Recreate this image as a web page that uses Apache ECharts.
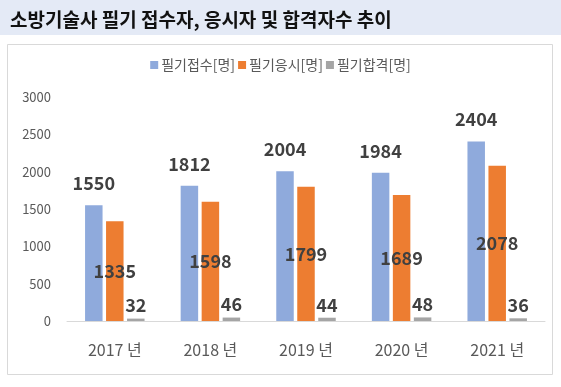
<!DOCTYPE html>
<html>
<head>
<meta charset="utf-8">
<script src="https://cdn.jsdelivr.net/npm/echarts@6/dist/echarts.min.js"></script>
<style>
html,body{margin:0;padding:0;background:#fff;}
#chart{width:561px;height:387px;}
</style>
</head>
<body>
<div id="chart"></div>
<script>
const titleText = '소방기술사 필기 접수자, 응시자 및 합격자수 추이';
const categories = ['2017 년', '2018 년', '2019 년', '2020 년', '2021 년'];
const seriesNames = ['필기접수[명]', '필기응시[명]', '필기합격[명]'];
const applied = [1550, 1812, 2004, 1984, 2404];
const tookExam = [1335, 1598, 1799, 1689, 2078];
const passed = [32, 46, 44, 48, 36];
const yTicks = [0, 500, 1000, 1500, 2000, 2500, 3000];

const FONT = '"Noto Sans CJK KR", "Noto Sans", sans-serif';
const chart = echarts.init(document.getElementById('chart'), null, {renderer: 'canvas'});

const labelStyle = {
  show: true,
  fontFamily: FONT,
  fontSize: 18,
  fontWeight: 'bold',
  color: '#404040'
};

chart.setOption({
  animation: false,
  textStyle: {fontFamily: FONT},
  graphic: [
    {type: 'rect', shape: {x: 0, y: 0, width: 561, height: 35}, style: {fill: '#e4eaf6'}, z: -10},
    {type: 'rect', shape: {x: 7.5, y: 44.5, width: 545, height: 330}, style: {fill: '#fff', stroke: '#d9d9d9', lineWidth: 1}, z: -10}
  ],
  title: {
    text: titleText,
    left: 5,
    top: 5,
    textStyle: {fontFamily: FONT, fontSize: 19, fontWeight: 'bold', color: '#111'}
  },
  legend: {
    data: seriesNames,
    left: 'center',
    top: 53,
    icon: 'rect',
    itemWidth: 8,
    itemHeight: 8,
    itemGap: 3,
    textStyle: {fontFamily: FONT, fontSize: 14, color: '#595959', padding: [0, 0, 0, -2]}
  },
  grid: {left: 67, right: 16, top: 97, bottom: 66, containLabel: false},
  xAxis: {
    type: 'category',
    data: categories,
    axisLine: {lineStyle: {color: '#d9d9d9'}},
    axisTick: {show: false},
    axisLabel: {fontFamily: FONT, fontSize: 16, color: '#595959', margin: 21}
  },
  yAxis: {
    type: 'value',
    min: yTicks[0],
    max: yTicks[yTicks.length - 1],
    interval: yTicks[1] - yTicks[0],
    splitLine: {show: false},
    axisLine: {show: false},
    axisTick: {show: false},
    axisLabel: {fontFamily: FONT, fontSize: 13, color: '#595959', margin: 16, formatter: function (v) { return String(v); }}
  },
  series: [
    {
      name: seriesNames[0], type: 'bar', data: applied,
      barWidth: '18.3%', barGap: '20%',
      itemStyle: {color: '#8faadc'},
      label: Object.assign({}, labelStyle, {position: 'top', distance: 13})
    },
    {
      name: seriesNames[1], type: 'bar', data: tookExam,
      barWidth: '18.3%', barGap: '20%',
      itemStyle: {color: '#ed7d31'},
      label: Object.assign({}, labelStyle, {position: 'inside'})
    },
    {
      name: seriesNames[2], type: 'bar', data: passed,
      barWidth: '18.3%', barGap: '20%',
      itemStyle: {color: '#a5a5a5'},
      label: Object.assign({}, labelStyle, {position: 'top', distance: 4})
    }
  ]
});
</script>
</body>
</html>
